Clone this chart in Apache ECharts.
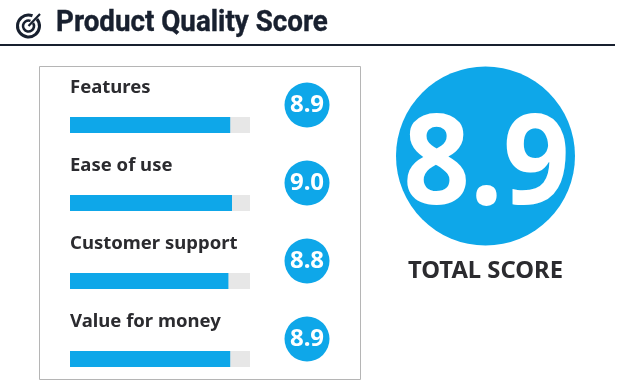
<!DOCTYPE html>
<html><head><meta charset="utf-8">
<style>html,body{margin:0;padding:0;background:#fff}#c{width:622px;height:389px}</style>
<script src="https://cdn.jsdelivr.net/npm/echarts@6/dist/echarts.min.js"></script>
</head><body><div id="c"></div>
<script>
const titleText = 'Product Quality Score';
const categories = ['Features','Ease of use','Customer support','Value for money'];
const scores = [8.9,9.0,8.8,8.9];
const totalScore = 8.9;
const totalLabel = 'TOTAL SCORE';
const blue = '#0ea7e9', ink = '#2b2b2f', navy = '#18202f';
const chart = echarts.init(document.getElementById('c'));
const font = '"Noto Sans"';
chart.setOption({
  animation:false,
  grid:[
    {left:70,width:180,top:86,height:312,outerBoundsMode:'none'},
    {left:285,width:44,top:66,height:312,outerBoundsMode:'none'}
  ],
  xAxis:[
    {gridIndex:0,type:'value',min:0,max:10,show:false},
    {gridIndex:1,type:'value',min:0,max:2,show:false}
  ],
  yAxis:[
    {gridIndex:0,type:'category',data:categories,inverse:true,show:false},
    {gridIndex:1,type:'category',data:categories,inverse:true,show:false}
  ],
  series:[
    {type:'bar',xAxisIndex:0,yAxisIndex:0,data:scores,barWidth:16,
     itemStyle:{color:blue},showBackground:true,backgroundStyle:{color:'#e7e7e7'},
     label:{show:true,position:[0,-39],align:'left',verticalAlign:'top',
       formatter:p=>p.name,color:ink,fontFamily:font,fontWeight:700,fontSize:18.5}},
    {type:'scatter',xAxisIndex:1,yAxisIndex:1,symbol:'circle',symbolSize:45,
     data:categories.map((c,i)=>({value:[1,c],score:scores[i]})),
     itemStyle:{color:blue,opacity:1},
     label:{show:true,position:'inside',formatter:p=>p.data.score.toFixed(1),color:'#fff',fontFamily:font,fontWeight:700,fontSize:24}}
  ],
  graphic:[
    {type:'text',z:5,x:56,y:8,style:{text:titleText,fill:navy,stroke:navy,lineWidth:0.4,fontFamily:'Roboto',fontWeight:700,fontSize:30},scaleX:0.925},
    {type:'line',z:5,shape:{x1:0,y1:45,x2:615,y2:45},style:{stroke:navy,lineWidth:2}},
    {type:'rect',z:-1,shape:{x:39.5,y:66.5,width:321,height:313},style:{fill:'#fff',stroke:'#b5b5b5',lineWidth:1}},
    {type:'circle',z:5,shape:{cx:485.5,cy:156,r:89.5},style:{fill:blue}},
    {type:'text',z:6,x:486.5,y:168.5,scaleX:0.935,style:{text:totalScore.toFixed(1),fill:'#fff',fontFamily:font,fontWeight:700,fontSize:125,align:'center',verticalAlign:'middle'}},
    {type:'text',z:6,x:485.5,y:271,style:{text:totalLabel,fill:ink,fontFamily:font,fontWeight:700,fontSize:23.8,align:'center',verticalAlign:'middle'}},
    {type:'arc',z:5,shape:{cx:28.5,cy:26,r:11,startAngle:-0.7,endAngle:-1.2+Math.PI*2},style:{stroke:navy,fill:'none',lineWidth:3}},
    {type:'arc',z:5,shape:{cx:28.5,cy:26,r:5.5,startAngle:-0.6,endAngle:-1.2+Math.PI*2},style:{stroke:navy,fill:'none',lineWidth:2.6}},
    {type:'line',z:5,shape:{x1:28.5,y1:26,x2:40,y2:14},style:{stroke:navy,lineWidth:2.2}}
  ]
});
</script></body></html>
